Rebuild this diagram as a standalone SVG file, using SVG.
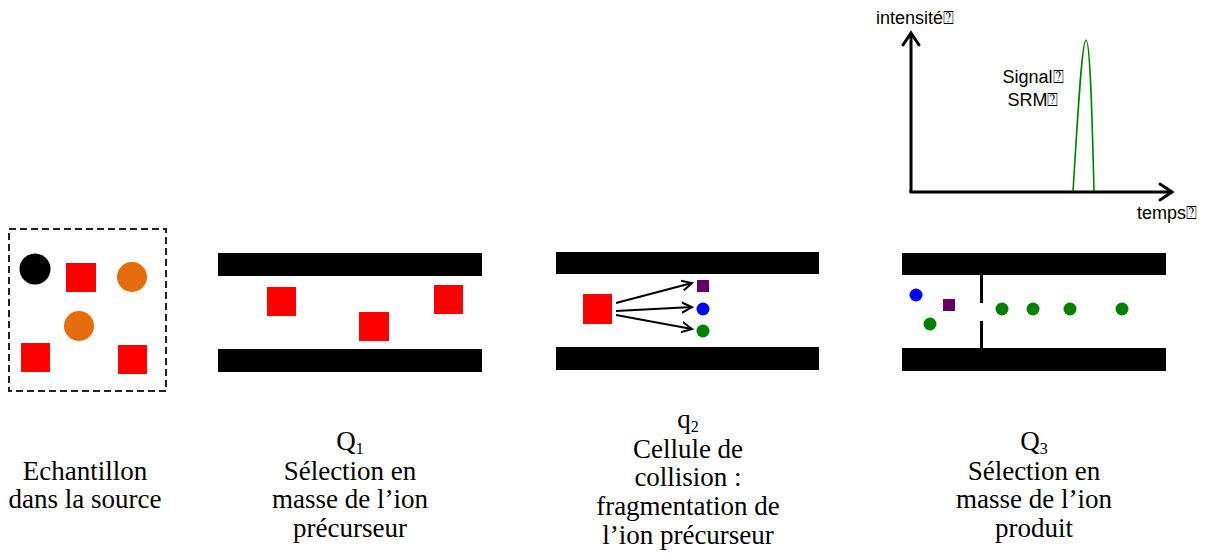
<svg xmlns="http://www.w3.org/2000/svg" width="1206" height="560" viewBox="0 0 1206 560">
<style>
.bar{fill:#000}
.red{fill:#ff0000}
.orange{fill:#e46c0a}
.purple{fill:#660066}
.blue{fill:#0000ff}
.green{fill:#008000}
.lbl{font-family:"Liberation Serif","Times New Roman",serif;font-size:27px;fill:#000;text-anchor:middle}
.sub{font-size:16px}
.gtxt{font-family:"Liberation Sans",Arial,"DejaVu Sans",sans-serif;font-size:18px;fill:#000}
.axis{stroke:#000;stroke-width:3;fill:none}
.frag{stroke:#000;stroke-width:2;fill:none}
</style>
<defs>
<marker id="ahBig" markerUnits="userSpaceOnUse" markerWidth="30" markerHeight="30" viewBox="-15 -15 30 30" refX="0" refY="0" orient="auto">
<path d="M-12,-8 L0,0 L-12,8" fill="none" stroke="#000" stroke-width="3" stroke-linecap="round" stroke-linejoin="miter"/>
</marker>
<marker id="ahSmall" markerUnits="userSpaceOnUse" markerWidth="20" markerHeight="20" viewBox="-10 -10 20 20" refX="0" refY="0" orient="auto">
<path d="M-10,-5 L0,0 L-10,5" fill="none" stroke="#000" stroke-width="2" stroke-linecap="round"/>
</marker>
</defs>

<g id="source">
<rect x="9" y="229" width="157" height="162" fill="none" stroke="#222" stroke-width="2" stroke-dasharray="7,4"/>
<circle cx="35" cy="269" r="15.5" fill="#000"/>
<rect class="red" x="66" y="263" width="30" height="29"/>
<circle class="orange" cx="132" cy="277" r="15"/>
<circle class="orange" cx="79" cy="326" r="15"/>
<rect class="red" x="21" y="343" width="29" height="29"/>
<rect class="red" x="118" y="345" width="29" height="29"/>
<text class="lbl" x="85" y="480">Echantillon</text>
<text class="lbl" x="85" y="508">dans la source</text>
</g>

<g id="q1">
<rect class="bar" x="218" y="253" width="264" height="23"/>
<rect class="bar" x="218" y="349" width="264" height="23"/>
<rect class="red" x="267" y="287" width="29" height="29"/>
<rect class="red" x="359" y="312" width="30" height="29"/>
<rect class="red" x="434" y="285" width="29" height="29"/>
<text class="lbl" x="350" y="450">Q<tspan class="sub" dy="4">1</tspan></text>
<text class="lbl" x="350" y="480">Sélection en</text>
<text class="lbl" x="350" y="508">masse de l’ion</text>
<text class="lbl" x="350" y="537">précurseur</text>
</g>

<g id="q2">
<rect class="bar" x="556" y="252" width="263" height="22"/>
<rect class="bar" x="556" y="347" width="263" height="23"/>
<rect class="red" x="583" y="294" width="29" height="30"/>
<rect class="purple" x="697" y="280" width="12" height="12"/>
<circle class="blue" cx="703" cy="309" r="6.5"/>
<circle class="green" cx="703" cy="331" r="6.5"/>
<text class="lbl" x="688" y="428">q<tspan class="sub" dy="4">2</tspan></text>
<text class="lbl" x="688" y="458">Cellule de</text>
<text class="lbl" x="688" y="486">collision :</text>
<text class="lbl" x="688" y="515">fragmentation de</text>
<text class="lbl" x="688" y="544">l’ion précurseur</text>
</g>

<g id="q3">
<rect class="bar" x="902" y="253" width="264" height="22"/>
<rect class="bar" x="902" y="348" width="264" height="23"/>
<rect class="bar" x="980" y="275" width="3" height="28"/>
<rect class="bar" x="980" y="321" width="3" height="27"/>
<circle class="blue" cx="916" cy="295" r="6.5"/>
<rect class="purple" x="943" y="299" width="12" height="12"/>
<circle class="green" cx="930" cy="324" r="6.5"/>
<circle class="green" cx="1002" cy="309" r="6.5"/>
<circle class="green" cx="1033" cy="309" r="6.5"/>
<circle class="green" cx="1070" cy="309" r="6.5"/>
<circle class="green" cx="1122" cy="309" r="6.5"/>
<text class="lbl" x="1034" y="450">Q<tspan class="sub" dy="4">3</tspan></text>
<text class="lbl" x="1034" y="480">Sélection en</text>
<text class="lbl" x="1034" y="508">masse de l’ion</text>
<text class="lbl" x="1034" y="537">produit</text>
</g>

<g id="graph">
<path d="M1073,192 C1078,110 1082,40 1086,40 C1090,40 1092,110 1094,192" fill="none" stroke="#008000" stroke-width="1.6"/>
<text class="gtxt" x="876" y="24">intensité⍰</text>
<text class="gtxt" x="1033" y="83" text-anchor="middle">Signal⍰</text>
<text class="gtxt" x="1033" y="106" text-anchor="middle">SRM⍰</text>
<text class="gtxt" x="1137" y="219">temps⍰</text>
</g>

<g id="connectors">
<path class="axis" d="M911,192 L911,33" marker-end="url(#ahBig)"/>
<path class="axis" d="M909.5,192 L1172,192" marker-end="url(#ahBig)"/>
<path class="frag" d="M616,303 L692,283" marker-end="url(#ahSmall)"/>
<path class="frag" d="M616,311 L692,307" marker-end="url(#ahSmall)"/>
<path class="frag" d="M616,315 L692,329" marker-end="url(#ahSmall)"/>
</g>
</svg>
